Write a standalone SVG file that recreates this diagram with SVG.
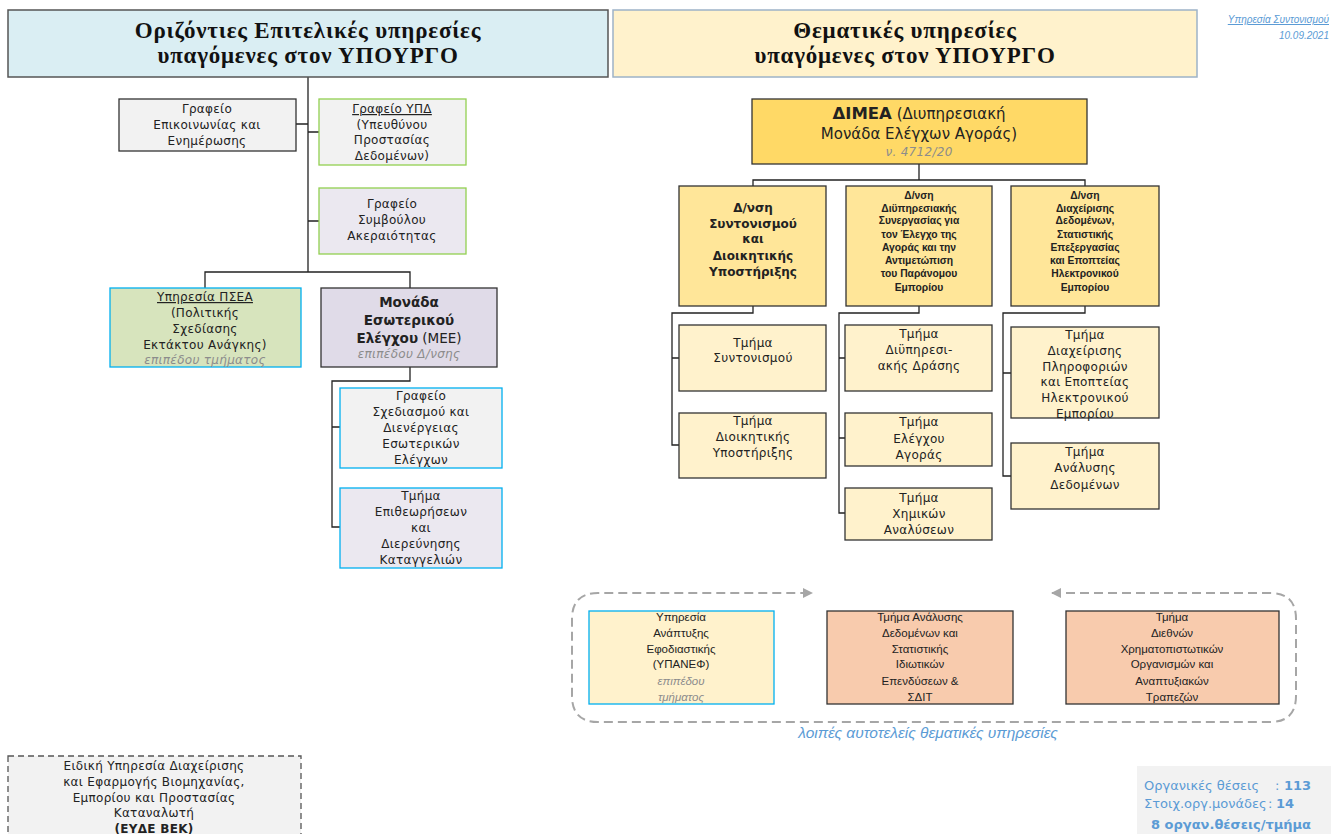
<svg xmlns="http://www.w3.org/2000/svg" width="1331" height="834" viewBox="0 0 1331 834">
<defs>
<style>
.t{font-family:"DejaVu Sans",Verdana,sans-serif;font-size:12px;letter-spacing:0.3px;fill:#222;text-anchor:middle}
.l{font-family:"Liberation Sans",Arial,sans-serif;font-size:11.5px;fill:#222;text-anchor:middle}
.b{font-weight:bold}
.f10{font-size:10.3px}
.f12{font-size:12px;letter-spacing:0}
.f135{font-size:13.5px;letter-spacing:0}
.f15{font-size:15px;letter-spacing:0}
.h{font-family:"Liberation Serif","Times New Roman",serif;font-size:23px;font-weight:bold;fill:#111;text-anchor:middle;letter-spacing:0.8px}
.g{fill:#8c8c8c;font-style:italic}
.c{stroke:#222;stroke-width:1.3;fill:none}
.dk{stroke:#333;stroke-width:1.3}
.bl{stroke:#00b0f0;stroke-width:1.3}
.gr{stroke:#92d050;stroke-width:1.3}
.st{font-family:"DejaVu Sans",Verdana,sans-serif;font-size:13px;fill:#5b9bd5}
</style>
<marker id="ah" viewBox="0 0 10 10" refX="9" refY="5" markerWidth="5" markerHeight="5" orient="auto-start-reverse" markerUnits="strokeWidth">
<path d="M0,0 L10,5 L0,10 z" fill="#a6a6a6"/>
</marker>
</defs>
<rect width="1331" height="834" fill="#fff"/>

<g id="connectors">
<path class="c" d="M308,77 V272 M205,288 V272 H410 V288 M296,124 H308 M308,132 H319 M308,221 H319"/>
<path class="c" d="M410,367 V381 H332 V527 H340 M332,427 H340"/>
<path class="c" d="M919,164 V180 M753,186 V180 H1085 V186"/>
<path class="c" d="M753,306 V313 H672 V445 H679 M672,358 H679"/>
<path class="c" d="M919,306 V313 H839 V513 H845 M839,358 H845 M839,438 H845"/>
<path class="c" d="M1085,306 V313 H1003 V476 H1011 M1003,373 H1011"/>
<path d="M1052,593 H1270 Q1296,593 1296,619 V696 Q1296,722 1270,722 H598 Q572,722 572,696 V619 Q572,593 598,593 H812" fill="none" stroke="#a6a6a6" stroke-width="2" stroke-dasharray="9,5" marker-start="url(#ah)" marker-end="url(#ah)"/>
</g>

<g id="hdr-left">
<rect x="8" y="10" width="600" height="67" fill="#daeef3" stroke="#555" stroke-width="1.5"/>
<text class="h" x="308" y="38">Οριζόντιες Επιτελικές υπηρεσίες</text>
<text class="h" x="308" y="63">υπαγόμενες στον ΥΠΟΥΡΓΟ</text>
</g>

<g id="hdr-right">
<rect x="613" y="10" width="584" height="67" fill="#fff2cc" stroke="#9db3c8" stroke-width="1.5"/>
<text class="h" x="905" y="38">Θεματικές υπηρεσίες</text>
<text class="h" x="905" y="63">υπαγόμενες στον ΥΠΟΥΡΓΟ</text>
</g>

<g id="stamp">
<text x="1329" y="23" font-family="Liberation Sans,Arial,sans-serif" font-size="10" font-style="italic" fill="#5b9bd5" text-anchor="end" text-decoration="underline">Υπηρεσία Συντονισμού</text>
<text x="1329" y="39" font-family="Liberation Sans,Arial,sans-serif" font-size="10" font-style="italic" fill="#5b9bd5" text-anchor="end">10.09.2021</text>
</g>

<g id="n-epik">
<rect x="119" y="99" width="177" height="52" fill="#f2f2f2" class="dk"/>
<text class="t" x="207" y="113">Γραφείο</text>
<text class="t" x="207" y="129">Επικοινωνίας και</text>
<text class="t" x="207" y="145">Ενημέρωσης</text>
</g>

<g id="n-ypd">
<rect x="319" y="99" width="147" height="66" fill="#f2f2f2" class="gr"/>
<text class="t" x="392" y="113" text-decoration="underline">Γραφείο ΥΠΔ</text>
<text class="t" x="392" y="129">(Υπευθύνου</text>
<text class="t" x="392" y="144">Προστασίας</text>
<text class="t" x="392" y="160">Δεδομένων)</text>
</g>

<g id="n-symv">
<rect x="319" y="188" width="147" height="66" fill="#ebe8f0" class="gr"/>
<text class="t" x="392" y="208">Γραφείο</text>
<text class="t" x="392" y="224">Συμβούλου</text>
<text class="t" x="392" y="240">Ακεραιότητας</text>
</g>

<g id="n-psea">
<rect x="110" y="288" width="191" height="79" fill="#d7e4bd" class="bl"/>
<text class="t" x="205" y="301" text-decoration="underline">Υπηρεσία ΠΣΕΑ</text>
<text class="t" x="205" y="317">(Πολιτικής</text>
<text class="t" x="205" y="333">Σχεδίασης</text>
<text class="t" x="205" y="349">Εκτάκτου Ανάγκης)</text>
<text class="t g" x="205" y="364">επιπέδου τμήματος</text>
</g>

<g id="n-mee">
<rect x="321" y="288" width="176" height="79" fill="#e0dbe8" class="dk"/>
<text class="t b f135" x="409" y="307">Μονάδα</text>
<text class="t b f135" x="409" y="325">Εσωτερικού</text>
<text class="t f135" x="409" y="343"><tspan font-weight="bold">Ελέγχου</tspan> (ΜΕΕ)</text>
<text class="t g" x="409" y="358">επιπέδου Δ/νσης</text>
</g>

<g id="n-mee1">
<rect x="340" y="388" width="162" height="80" fill="#f2f2f2" class="bl"/>
<text class="t" x="421" y="400">Γραφείο</text>
<text class="t" x="421" y="416">Σχεδιασμού και</text>
<text class="t" x="421" y="432">Διενέργειας</text>
<text class="t" x="421" y="448">Εσωτερικών</text>
<text class="t" x="421" y="464">Ελέγχων</text>
</g>

<g id="n-mee2">
<rect x="340" y="488" width="162" height="80" fill="#ebe8f0" class="bl"/>
<text class="t" x="421" y="500">Τμήμα</text>
<text class="t" x="421" y="516">Επιθεωρήσεων</text>
<text class="t" x="421" y="532">και</text>
<text class="t" x="421" y="548">Διερεύνησης</text>
<text class="t" x="421" y="564">Καταγγελιών</text>
</g>

<g id="n-dimea">
<rect x="752" y="99" width="335" height="65" fill="#ffd966" class="dk"/>
<text class="t f15" x="919" y="119"><tspan font-weight="bold" font-size="16.5">ΔΙΜΕΑ</tspan> (Διυπηρεσιακή</text>
<text class="t f15" x="919" y="139">Μονάδα Ελέγχων Αγοράς)</text>
<text class="t g" x="919" y="156">ν. 4712/20</text>
</g>

<g id="n-d1">
<rect x="679" y="186" width="147" height="120" fill="#ffe699" class="dk"/>
<text class="t b f12" x="753" y="212">Δ/νση</text>
<text class="t b f12" x="753" y="228">Συντονισμού</text>
<text class="t b f12" x="753" y="243">και</text>
<text class="t b f12" x="753" y="260">Διοικητικής</text>
<text class="t b f12" x="753" y="276">Υποστήριξης</text>
</g>

<g id="n-d2">
<rect x="846" y="186" width="146" height="120" fill="#ffe699" class="dk"/>
<text class="l b f10" x="919" y="199">Δ/νση</text>
<text class="l b f10" x="919" y="212">Διϋπηρεσιακής</text>
<text class="l b f10" x="919" y="224">Συνεργασίας για</text>
<text class="l b f10" x="919" y="238">τον Έλεγχο της</text>
<text class="l b f10" x="919" y="251">Αγοράς και την</text>
<text class="l b f10" x="919" y="264">Αντιμετώπιση</text>
<text class="l b f10" x="919" y="277">του Παράνομου</text>
<text class="l b f10" x="919" y="291">Εμπορίου</text>
</g>

<g id="n-d3">
<rect x="1011" y="186" width="148" height="120" fill="#ffe699" class="dk"/>
<text class="l b f10" x="1085" y="199">Δ/νση</text>
<text class="l b f10" x="1085" y="212">Διαχείρισης</text>
<text class="l b f10" x="1085" y="224">Δεδομένων,</text>
<text class="l b f10" x="1085" y="238">Στατιστικής</text>
<text class="l b f10" x="1085" y="251">Επεξεργασίας</text>
<text class="l b f10" x="1085" y="264">και Εποπτείας</text>
<text class="l b f10" x="1085" y="277">Ηλεκτρονικού</text>
<text class="l b f10" x="1085" y="291">Εμπορίου</text>
</g>

<g id="n-t1">
<rect x="679" y="325" width="147" height="66" fill="#fff2cc" class="dk"/>
<text class="t" x="753" y="347">Τμήμα</text>
<text class="t" x="753" y="362">Συντονισμού</text>
</g>

<g id="n-t2">
<rect x="679" y="413" width="147" height="65" fill="#fff2cc" class="dk"/>
<text class="t" x="753" y="425">Τμήμα</text>
<text class="t" x="753" y="441">Διοικητικής</text>
<text class="t" x="753" y="457">Υποστήριξης</text>
</g>

<g id="n-t3">
<rect x="845" y="325" width="147" height="66" fill="#fff2cc" class="dk"/>
<text class="t" x="919" y="338">Τμήμα</text>
<text class="t" x="919" y="354">Διϋπηρεσι-</text>
<text class="t" x="919" y="370">ακής Δράσης</text>
</g>

<g id="n-t4">
<rect x="845" y="413" width="147" height="53" fill="#fff2cc" class="dk"/>
<text class="t" x="919" y="426">Τμήμα</text>
<text class="t" x="919" y="443">Ελέγχου</text>
<text class="t" x="919" y="459">Αγοράς</text>
</g>

<g id="n-t5">
<rect x="845" y="488" width="147" height="52" fill="#fff2cc" class="dk"/>
<text class="t" x="919" y="502">Τμήμα</text>
<text class="t" x="919" y="518">Χημικών</text>
<text class="t" x="919" y="534">Αναλύσεων</text>
</g>

<g id="n-t6">
<rect x="1011" y="327" width="148" height="91" fill="#fff2cc" class="dk"/>
<text class="t" x="1085" y="339">Τμήμα</text>
<text class="t" x="1085" y="355">Διαχείρισης</text>
<text class="t" x="1085" y="371">Πληροφοριών</text>
<text class="t" x="1085" y="386">και Εποπτείας</text>
<text class="t" x="1085" y="402">Ηλεκτρονικού</text>
<text class="t" x="1085" y="418">Εμπορίου</text>
</g>

<g id="n-t7">
<rect x="1011" y="443" width="148" height="66" fill="#fff2cc" class="dk"/>
<text class="t" x="1085" y="456">Τμήμα</text>
<text class="t" x="1085" y="472">Ανάλυσης</text>
<text class="t" x="1085" y="489">Δεδομένων</text>
</g>

<g id="n-ypanef">
<rect x="589" y="611" width="185" height="93" fill="#fff2cc" class="bl"/>
<text class="l" x="681" y="621">Υπηρεσία</text>
<text class="l" x="681" y="637">Ανάπτυξης</text>
<text class="l" x="681" y="653">Εφοδιαστικής</text>
<text class="l" x="681" y="668">(ΥΠΑΝΕΦ)</text>
<text class="l g" x="681" y="685">επιπέδου</text>
<text class="l g" x="681" y="701">τμήματος</text>
</g>

<g id="n-sdit">
<rect x="827" y="611" width="186" height="93" fill="#f8cbad" class="dk"/>
<text class="l" x="920" y="621">Τμήμα Ανάλυσης</text>
<text class="l" x="920" y="637">Δεδομένων και</text>
<text class="l" x="920" y="653">Στατιστικής</text>
<text class="l" x="920" y="668">Ιδιωτικών</text>
<text class="l" x="920" y="685">Επενδύσεων &amp;</text>
<text class="l" x="920" y="701">ΣΔΙΤ</text>
</g>

<g id="n-diethn">
<rect x="1066" y="611" width="213" height="93" fill="#f8cbad" class="dk"/>
<text class="l" x="1172" y="621">Τμήμα</text>
<text class="l" x="1172" y="637">Διεθνών</text>
<text class="l" x="1172" y="653">Χρηματοπιστωτικών</text>
<text class="l" x="1172" y="668">Οργανισμών και</text>
<text class="l" x="1172" y="685">Αναπτυξιακών</text>
<text class="l" x="1172" y="701">Τραπεζών</text>
</g>

<text x="928" y="738" font-family="Liberation Sans,Arial,sans-serif" font-size="15.5" font-style="italic" fill="#5b9bd5" text-anchor="middle">λοιπές αυτοτελείς θεματικές υπηρεσίες</text>

<g id="n-eyde">
<rect x="8" y="756" width="293" height="90" fill="#f2f2f2" stroke="#555" stroke-width="1.3" stroke-dasharray="6,4"/>
<text class="t" x="154" y="770">Ειδική Υπηρεσία Διαχείρισης</text>
<text class="t" x="154" y="786">και Εφαρμογής Βιομηχανίας,</text>
<text class="t" x="154" y="802">Εμπορίου και Προστασίας</text>
<text class="t" x="154" y="817">Καταναλωτή</text>
<text class="t b" x="154" y="833">(ΕΥΔΕ ΒΕΚ)</text>
</g>

<g id="stats">
<rect x="1137" y="766" width="194" height="68" fill="#f2f2f2"/>
<text class="st" x="1144" y="790">Οργανικές θέσεις<tspan x="1275">:</tspan><tspan x="1284" font-weight="bold">113</tspan></text>
<text class="st" x="1144" y="808">Στοιχ.οργ.μονάδες<tspan x="1268">:</tspan><tspan x="1276" font-weight="bold">14</tspan></text>
<text class="st" x="1151" y="829" font-weight="bold" font-size="13.5">8 οργαν.θέσεις/τμήμα</text>
</g>
</svg>
